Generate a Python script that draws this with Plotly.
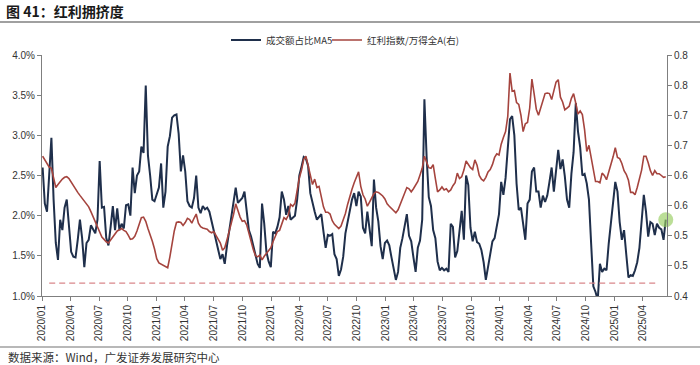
import plotly.graph_objects as go
import pandas as pd

# ---------------- data ----------------
START_DATE = "2020-01-03"   # weekly observations (Fridays)

TURNOVER_SHARE_MA5 = [  # 成交额占比MA5, %
    2.60, 2.15, 2.05, 2.60, 2.97, 2.20, 1.66, 1.45, 1.95, 1.82,
    2.10, 2.20, 1.90, 1.55, 1.49, 1.48, 1.70, 1.95, 1.72, 1.36,
    1.66, 1.70, 1.88, 1.82, 1.78, 1.95, 2.68, 2.10, 2.11, 1.72,
    1.63, 1.86, 2.12, 1.82, 2.09, 1.82, 1.90, 1.84, 2.13, 2.14,
    2.00, 2.60, 2.28, 2.50, 2.55, 2.86, 2.78, 3.62, 2.75, 2.50,
    2.20, 2.18, 2.26, 2.35, 2.65, 2.10, 2.30, 2.86, 2.99, 3.22,
    3.25, 3.26, 3.02, 2.55, 2.75, 2.55, 2.18, 2.12, 2.10, 2.22,
    2.50, 2.10, 2.03, 2.12, 2.08, 2.10, 2.05, 1.93, 1.80, 1.66,
    1.57, 1.46, 1.52, 1.40, 1.62, 1.80, 1.93, 2.12, 2.35, 2.16,
    2.19, 2.22, 2.30, 2.08, 1.82, 1.74, 1.62, 1.50, 1.40, 1.35,
    2.15, 1.90, 1.55, 1.43, 1.36, 1.80, 1.78, 1.86, 1.98, 2.30,
    2.20, 2.01, 2.12, 1.95, 1.98, 2.00, 2.20, 2.50, 2.61, 2.73,
    2.71, 2.62, 2.28, 2.15, 2.05, 1.95, 1.99, 2.02, 1.80, 1.60,
    1.76, 1.75, 1.77, 1.52, 1.46, 1.25, 1.33, 1.49, 1.78, 1.93,
    2.06, 2.20, 2.28, 2.12, 2.30, 2.24, 1.85, 1.78, 2.05, 1.80,
    1.62, 2.45, 2.10, 1.93, 1.62, 1.46, 1.66, 1.69, 1.63, 1.48,
    1.35, 1.20, 1.30, 1.60, 1.72, 1.85, 2.02, 1.75, 1.68, 1.48,
    1.30, 1.60, 1.69, 1.95, 3.45, 2.74, 2.23, 2.12, 1.82, 1.72,
    1.43, 1.32, 1.35, 1.32, 1.34, 1.30, 1.90, 1.86, 1.48, 1.56,
    1.85, 2.06, 1.70, 2.50, 2.38, 1.85, 1.68, 1.80, 1.67, 1.65,
    1.57, 1.42, 1.20, 1.38, 1.56, 1.68, 1.72, 1.90, 2.02, 2.42,
    2.26, 2.47, 2.85, 3.20, 3.24, 3.00, 2.40, 2.07, 2.10, 1.90,
    1.70, 2.15, 2.20, 2.55, 2.60, 2.30, 2.30, 2.10, 2.25, 2.17,
    2.25, 2.42, 2.60, 2.30, 2.55, 2.82, 2.58, 2.70, 2.49, 2.20,
    2.10, 2.52, 2.79, 3.40, 3.05, 2.85, 2.50, 2.52, 2.40, 2.20,
    1.65, 1.12, 1.05, 0.95, 1.40, 1.30, 1.34, 1.32, 1.65, 1.89,
    2.20, 2.42, 2.30, 1.92, 1.70, 1.82, 1.52, 1.23, 1.26, 1.25,
    1.32, 1.42, 1.60, 1.99, 2.26, 2.05, 1.74, 1.92, 1.90, 1.76,
    1.90, 1.85, 1.83, 1.70, 1.95,
]

DIVIDEND_VS_WINDA = [  # 红利指数/万得全A(右)
    0.632, 0.626, 0.620, 0.614, 0.612, 0.596, 0.580, 0.585, 0.590, 0.594,
    0.597, 0.598, 0.595, 0.589, 0.582, 0.577, 0.572, 0.567, 0.562, 0.557,
    0.551, 0.548, 0.540, 0.532, 0.525, 0.517, 0.506, 0.498, 0.494, 0.490,
    0.488, 0.493, 0.500, 0.505, 0.508, 0.510, 0.512, 0.509, 0.507, 0.501,
    0.494, 0.495, 0.499, 0.508, 0.520, 0.530, 0.531, 0.524, 0.512, 0.503,
    0.491, 0.478, 0.462, 0.455, 0.453, 0.451, 0.449, 0.447, 0.465, 0.487,
    0.508, 0.522, 0.523, 0.522, 0.517, 0.522, 0.529, 0.527, 0.521, 0.529,
    0.536, 0.521, 0.515, 0.513, 0.512, 0.511, 0.507, 0.505, 0.507, 0.500,
    0.493, 0.488, 0.476, 0.480, 0.493, 0.506, 0.519, 0.535, 0.553, 0.541,
    0.531, 0.524, 0.525, 0.518, 0.503, 0.490, 0.477, 0.467, 0.465, 0.468,
    0.460, 0.466, 0.471, 0.474, 0.480, 0.490, 0.499, 0.507, 0.509, 0.519,
    0.530, 0.527, 0.534, 0.552, 0.549, 0.554, 0.579, 0.596, 0.609, 0.627,
    0.632, 0.616, 0.598, 0.585, 0.594, 0.580, 0.582, 0.563, 0.548, 0.539,
    0.539, 0.536, 0.525, 0.519, 0.516, 0.512, 0.516, 0.525, 0.537, 0.552,
    0.566, 0.577, 0.588, 0.598, 0.606, 0.582, 0.568, 0.561, 0.549, 0.556,
    0.564, 0.570, 0.573, 0.572, 0.569, 0.566, 0.561, 0.553, 0.549, 0.545,
    0.541, 0.538, 0.543, 0.552, 0.562, 0.570, 0.580, 0.578, 0.573, 0.578,
    0.585, 0.590, 0.601, 0.612, 0.632, 0.621, 0.613, 0.612, 0.618, 0.595,
    0.573, 0.576, 0.581, 0.576, 0.578, 0.573, 0.576, 0.583, 0.588, 0.604,
    0.595, 0.598, 0.609, 0.624, 0.618, 0.613, 0.610, 0.626, 0.617, 0.600,
    0.594, 0.591, 0.597, 0.606, 0.610, 0.618, 0.630, 0.636, 0.634, 0.652,
    0.663, 0.673, 0.698, 0.770, 0.740, 0.741, 0.721, 0.718, 0.700, 0.673,
    0.686, 0.688, 0.712, 0.760, 0.736, 0.710, 0.700, 0.712, 0.724, 0.736,
    0.737, 0.736, 0.726, 0.740, 0.755, 0.759, 0.730, 0.722, 0.709, 0.712,
    0.715, 0.728, 0.736, 0.720, 0.702, 0.707, 0.701, 0.676, 0.640, 0.650,
    0.630, 0.608, 0.590, 0.590, 0.588, 0.604, 0.600, 0.593, 0.605, 0.616,
    0.631, 0.646, 0.630, 0.628, 0.620, 0.608, 0.602, 0.592, 0.572, 0.572,
    0.568, 0.580, 0.595, 0.609, 0.632, 0.632, 0.621, 0.608, 0.600, 0.608,
    0.603, 0.603, 0.600, 0.597, 0.598,
]

LOW_LEVEL = 1.16   # dashed reference level (left axis, %)

X_TICKS = [
    "2020-01-01", "2020-04-01", "2020-07-01", "2020-10-01",
    "2021-01-01", "2021-04-01", "2021-07-01", "2021-10-01",
    "2022-01-01", "2022-04-01", "2022-07-01", "2022-10-01",
    "2023-01-01", "2023-04-01", "2023-07-01", "2023-10-01",
    "2024-01-01", "2024-04-01", "2024-07-01", "2024-10-01",
    "2025-01-01", "2025-04-01",
]
LEFT_TICKS = [1.0, 1.5, 2.0, 2.5, 3.0, 3.5, 4.0]
LEFT_TICK_LABELS = ["1.0%", "1.5%", "2.0%", "2.5%", "3.0%", "3.5%", "4.0%"]
RIGHT_TICKS = [0.40, 0.45, 0.50, 0.55, 0.60, 0.65, 0.70, 0.75, 0.80]
RIGHT_TICK_LABELS = ["0.4", "0.5", "0.5", "0.6", "0.6", "0.7", "0.7", "0.8", "0.8"]

NAME_BLUE = "成交额占比MA5"
NAME_RED = "红利指数/万得全A(右)"
TITLE = "图 41：红利拥挤度"
SOURCE = "数据来源：Wind，广发证券发展研究中心"

# ---------------- figure ----------------
DATES = pd.date_range(START_DATE, periods=len(TURNOVER_SHARE_MA5), freq="7D")

W, H = 700, 365
ML, MR, MT, MB = 42, 33, 55, 69
PW, PH = W - ML - MR, H - MT - MB


def paper_x(px):
    return (px - ML) / PW


def paper_y(py):
    return (H - MB - py) / PH


CJK = "Noto Sans CJK SC"
LAT = "Liberation Sans, Arial, sans-serif"
BLUE = "#1f2f4b"
RED = "#a5443e"

fig = go.Figure()
fig.add_trace(go.Scatter(
    x=DATES, y=TURNOVER_SHARE_MA5, name=NAME_BLUE, mode="lines",
    line=dict(color=BLUE, width=2.0), yaxis="y", legend="legend",
))
fig.add_trace(go.Scatter(
    x=DATES, y=DIVIDEND_VS_WINDA, name=NAME_RED, mode="lines",
    line=dict(color=RED, width=1.6), yaxis="y2", legend="legend2",
))
fig.add_trace(go.Scatter(
    x=[DATES[3], DATES[-5]], y=[LOW_LEVEL, LOW_LEVEL], mode="lines",
    line=dict(color="#d9868a", width=1.4, dash="6px,4px"),
    showlegend=False, yaxis="y",
))
fig.add_trace(go.Scatter(
    x=[DATES[-1]], y=[TURNOVER_SHARE_MA5[-1]], mode="markers",
    marker=dict(size=15, color="rgba(150,205,95,0.65)"),
    showlegend=False, cliponaxis=False, yaxis="y",
))

axis_line = "#7f7f7f"
tick_font = dict(family=LAT, size=10, color="#333333")
legend_common = dict(
    orientation="h", xanchor="left", y=paper_y(40), yanchor="middle",
    font=dict(family=CJK, size=9.5, color="#333333"),
    itemwidth=30, bgcolor="rgba(0,0,0,0)",
)

fig.update_layout(
    width=W, height=H,
    margin=dict(l=ML, r=MR, t=MT, b=MB),
    paper_bgcolor="white", plot_bgcolor="white",
    showlegend=True,
    legend=dict(x=paper_x(226), **legend_common),
    legend2=dict(x=paper_x(327), **legend_common),
    xaxis=dict(
        type="date", range=["2020-01-01", "2025-06-17"],
        tickvals=X_TICKS, tickformat="%Y/%m", tickangle=-90,
        ticks="outside", ticklen=4, tickcolor=axis_line,
        showline=True, linecolor=axis_line, linewidth=1,
        showgrid=False, zeroline=False, tickfont=tick_font,
    ),
    yaxis=dict(
        range=[1.0, 4.0], tickvals=LEFT_TICKS, ticktext=LEFT_TICK_LABELS,
        ticks="outside", ticklen=4, tickcolor=axis_line,
        showline=True, linecolor=axis_line, linewidth=1,
        showgrid=False, zeroline=False, tickfont=tick_font,
    ),
    yaxis2=dict(
        range=[0.4, 0.8], tickvals=RIGHT_TICKS, ticktext=RIGHT_TICK_LABELS,
        overlaying="y", side="right",
        ticks="outside", ticklen=4, tickcolor=axis_line,
        showline=True, linecolor=axis_line, linewidth=1,
        showgrid=False, zeroline=False, tickfont=tick_font,
    ),
    title=dict(
        text="<b>" + TITLE + "</b>", xref="container", yref="container",
        x=6 / W, xanchor="left", y=1 - 12 / H, yanchor="middle",
        font=dict(family=CJK, size=14, color="#1a1a1a"),
    ),
    annotations=[dict(
        text=SOURCE, xref="paper", yref="paper",
        x=paper_x(6), y=paper_y(357), xanchor="left", yanchor="middle",
        showarrow=False, font=dict(family=CJK, size=11.5, color="#333333"),
    )],
    shapes=[
        dict(type="line", xref="paper", yref="paper",
             x0=paper_x(0), x1=paper_x(W), y0=paper_y(22), y1=paper_y(22),
             line=dict(color="#a0a0a0", width=2)),
        dict(type="line", xref="paper", yref="paper",
             x0=paper_x(0), x1=paper_x(W), y0=paper_y(347), y1=paper_y(347),
             line=dict(color="#a0a0a0", width=1.5)),
    ],
)

fig.write_html(
    "out.html",
    config={"displayModeBar": False},
    post_script="document.body.style.margin='0';document.body.style.overflow='hidden';",
)
